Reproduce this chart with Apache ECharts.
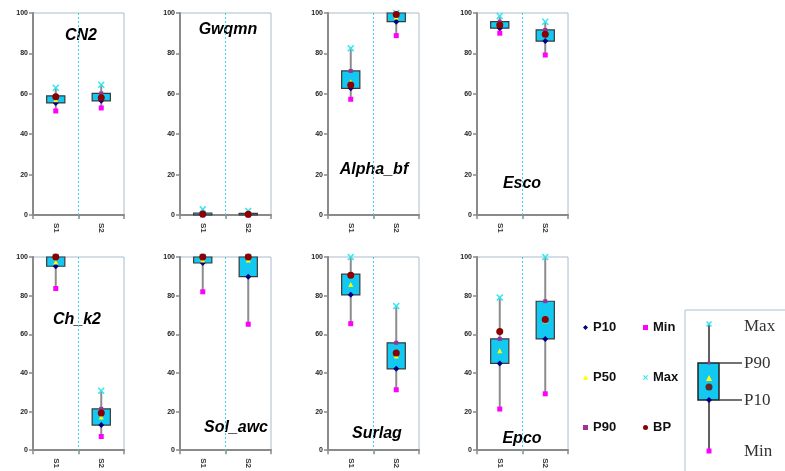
<!DOCTYPE html>
<html>
<head>
<meta charset="utf-8">
<script src="https://cdn.jsdelivr.net/npm/echarts@6/dist/echarts.min.js"></script>
<style>html,body{margin:0;padding:0;background:#fff}#c{width:785px;height:471px}</style>
</head>
<body>
<div id="c"></div>
<script>
// ---- data ----
const categories = ['S1', 'S2'];
const panelTitles = ['CN2', 'Gwqmn', 'Alpha_bf', 'Esco', 'Ch_k2', 'Sol_awc', 'Surlag', 'Epco'];
const yTicks = [0, 20, 40, 60, 80, 100];
const minVals = [[51.5, 53], [0, 0], [57.3, 88.8], [90, 79.2], [83.7, 7.1], [82, 65.2], [65.5, 31.3], [21.3, 29.2]];
const p10Vals = [[55.5, 56.5], [0.1, 0.1], [62.7, 95.7], [92.5, 86.1], [95.2, 13], [96.9, 89.8], [80.4, 42.1], [44.9, 57.6]];
const p50Vals = [[57, 58], [0.4, 0.3], [66, 98], [94.5, 90], [97.4, 17.2], [98.5, 98.5], [85.8, 48.7], [51.5, 67]];
const p90Vals = [[59, 60.2], [1, 0.8], [71.3, 100], [95.7, 91.6], [100, 21.4], [100, 100], [91.1, 55.6], [57.6, 77.1]];
const maxVals = [[63, 64.5], [2.8, 2], [82.5, 100], [98.5, 95.7], [100, 30.8], [100, 100], [100, 74.6], [79, 100]];
const bpVals = [[58.5, 58], [0.5, 0.4], [64.4, 99.3], [94, 89.5], [100, 19.3], [100, 100], [90.6, 50.3], [61.4, 67.7]];

// ---- layout ----
const gridLefts = [33, 180, 328, 477];
const gridTops = [13, 257];
const gridW = 91, gridH = 202;
const titlePos = [[81, 36], [228, 30], [374, 170], [522, 184], [77, 320], [236, 428], [377, 434], [522, 439]];

const XPATH = 'path://M0,1.5L1.5,0L5,3.5L8.5,0L10,1.5L6.5,5L10,8.5L8.5,10L5,6.5L1.5,10L0,8.5L3.5,5Z';
const markerDefs = [
  {name: 'P10', arr: p10Vals, symbol: 'diamond', size: 6, color: '#000080'},
  {name: 'P50', arr: p50Vals, symbol: 'triangle', size: 5, color: '#ffff00'},
  {name: 'P90', arr: p90Vals, symbol: 'rect', size: 4, color: '#993399'},
  {name: 'Min', arr: minVals, symbol: 'rect', size: 5, color: '#ff00ff'},
  {name: 'Max', arr: maxVals, symbol: XPATH, size: 7, color: '#33e6f0'},
  {name: 'BP', arr: bpVals, symbol: 'circle', size: 7, color: '#8b0000'}
];

const grids = [], xAxes = [], yAxes = [], series = [], graphics = [];
for (let i = 0; i < 8; i++) {
  const col = i % 4, row = Math.floor(i / 4);
  grids.push({left: gridLefts[col], top: gridTops[row], width: gridW, height: gridH,
    show: true, borderColor: '#a9bccd', borderWidth: 1, backgroundColor: 'transparent'});
  xAxes.push({type: 'category', gridIndex: i, data: categories, boundaryGap: true,
    axisLine: {lineStyle: {color: '#8a8a8a', width: 2}},
    axisTick: {show: true, length: 4, lineStyle: {color: '#8a8a8a', width: 1.5}},
    axisLabel: {rotate: -90, fontSize: 8, fontWeight: 'bold', color: '#333', margin: 8, fontFamily: 'Liberation Sans'},
    splitLine: {show: false}});
  yAxes.push({type: 'value', gridIndex: i, min: 0, max: 100, interval: 20,
    axisLine: {show: true, lineStyle: {color: '#8a8a8a', width: 2}},
    axisTick: {show: true, length: 4, lineStyle: {color: '#8a8a8a', width: 1.5}},
    axisLabel: {fontSize: 7, fontWeight: 'bold', color: '#222', margin: 5, fontFamily: 'Liberation Sans',
      formatter: v => yTicks.indexOf(v) >= 0 ? String(v) : ''},
    splitLine: {show: false}});

  const boxData = categories.map((c, j) => [j, minVals[i][j], p10Vals[i][j], p90Vals[i][j], maxVals[i][j]]);
  series.push({
    type: 'custom', xAxisIndex: i, yAxisIndex: i, silent: true, z: 2,
    data: boxData,
    renderItem: function (params, api) {
      const x = api.value(0);
      const pMin = api.coord([x, api.value(1)]);
      const p10 = api.coord([x, api.value(2)]);
      const p90 = api.coord([x, api.value(3)]);
      const pMax = api.coord([x, api.value(4)]);
      const band = api.size([1, 0])[0];
      const bw = band * 0.4;
      const children = [
        {type: 'line', shape: {x1: pMin[0], y1: pMin[1], x2: pMax[0], y2: pMax[1]},
          style: {stroke: '#8c8c8c', lineWidth: 2}},
        {type: 'rect', shape: {x: p90[0] - bw / 2, y: p90[1], width: bw, height: p10[1] - p90[1]},
          style: {fill: '#13c9f2', stroke: '#3a3a3a', lineWidth: 1.2}}
      ];
      if (params.dataIndex === 0) {
        const top = api.coord([x, 100]);
        const bot = api.coord([x, 0]);
        const mx = top[0] + band / 2;
        children.unshift({type: 'line', shape: {x1: mx, y1: top[1], x2: mx, y2: bot[1]},
          style: {stroke: '#3fd0ea', lineWidth: 1, lineDash: [2, 2]}});
      }
      return {type: 'group', children: children};
    }
  });
  markerDefs.forEach((m, k) => {
    series.push({
      type: 'scatter', name: m.name, xAxisIndex: i, yAxisIndex: i, z: 3 + k,
      symbol: m.symbol, symbolSize: m.size,
      itemStyle: {color: m.color, opacity: 1},
      data: m.arr[i]
    });
  });
  graphics.push({type: 'text', x: titlePos[i][0], y: titlePos[i][1],
    style: {text: panelTitles[i], textAlign: 'center', textVerticalAlign: 'middle',
      font: 'italic bold 16px "Liberation Sans", Arial, sans-serif', fill: '#000'}});
}

// legend schematic (illustrative key)
const keyX = 709;
const serif = '17px "Liberation Serif", serif';
graphics.push(
  {type: 'rect', shape: {x: 685, y: 310, width: 110, height: 170}, style: {fill: 'none', stroke: '#a9c0d6', lineWidth: 1}},
  {type: 'line', shape: {x1: keyX, y1: 324, x2: keyX, y2: 451}, style: {stroke: '#606060', lineWidth: 2}},
  {type: 'rect', shape: {x: 698, y: 363, width: 21, height: 37}, style: {fill: '#13c9f2', stroke: '#222', lineWidth: 1.5}},
  {type: 'line', shape: {x1: 719, y1: 363, x2: 742, y2: 363}, style: {stroke: '#444', lineWidth: 1.5}},
  {type: 'line', shape: {x1: 719, y1: 400, x2: 742, y2: 400}, style: {stroke: '#444', lineWidth: 1.5}},
  {type: 'polygon', shape: {points: [[keyX - 3, 322], [keyX - 2, 321], [keyX, 323], [keyX + 2, 321], [keyX + 3, 322], [keyX + 1, 324], [keyX + 3, 326], [keyX + 2, 327], [keyX, 325], [keyX - 2, 327], [keyX - 3, 326], [keyX - 1, 324]]}, style: {fill: '#33e6f0'}},
  {type: 'rect', shape: {x: keyX - 1.5, y: 361.5, width: 3, height: 3}, style: {fill: '#993399'}},
  {type: 'polygon', shape: {points: [[keyX, 375], [keyX - 3, 381], [keyX + 3, 381]]}, style: {fill: '#ffff00'}},
  {type: 'circle', shape: {cx: keyX, cy: 387, r: 3.5}, style: {fill: '#5a2a2a'}},
  {type: 'polygon', shape: {points: [[keyX, 397], [keyX + 3, 400], [keyX, 403], [keyX - 3, 400]]}, style: {fill: '#000080'}},
  {type: 'rect', shape: {x: keyX - 2.5, y: 448.5, width: 5, height: 5}, style: {fill: '#ff00ff'}},
  {type: 'text', x: 744, y: 327, style: {text: 'Max', textVerticalAlign: 'middle', font: serif, fill: '#333'}},
  {type: 'text', x: 744, y: 364, style: {text: 'P90', textVerticalAlign: 'middle', font: serif, fill: '#333'}},
  {type: 'text', x: 744, y: 401, style: {text: 'P10', textVerticalAlign: 'middle', font: serif, fill: '#333'}},
  {type: 'text', x: 744, y: 452, style: {text: 'Min', textVerticalAlign: 'middle', font: serif, fill: '#333'}}
);

const legendText = {fontSize: 13, fontWeight: 'bold', color: '#111', fontFamily: 'Liberation Sans'};
const option = {
  animation: false,
  backgroundColor: '#ffffff',
  grid: grids, xAxis: xAxes, yAxis: yAxes, series: series,
  legend: [
    {data: ['P10', 'P50', 'P90'], orient: 'vertical', left: 578, top: 316, itemGap: 37,
      itemWidth: 5, itemHeight: 5, itemGap2: 0, textStyle: legendText, selectedMode: false},
    {data: ['Min', 'Max', 'BP'], orient: 'vertical', left: 638, top: 316, itemGap: 37,
      itemWidth: 5, itemHeight: 5, textStyle: legendText, selectedMode: false}
  ],
  graphic: graphics
};
const chart = echarts.init(document.getElementById('c'), null, {renderer: 'canvas'});
chart.setOption(option);
</script>
</body>
</html>
